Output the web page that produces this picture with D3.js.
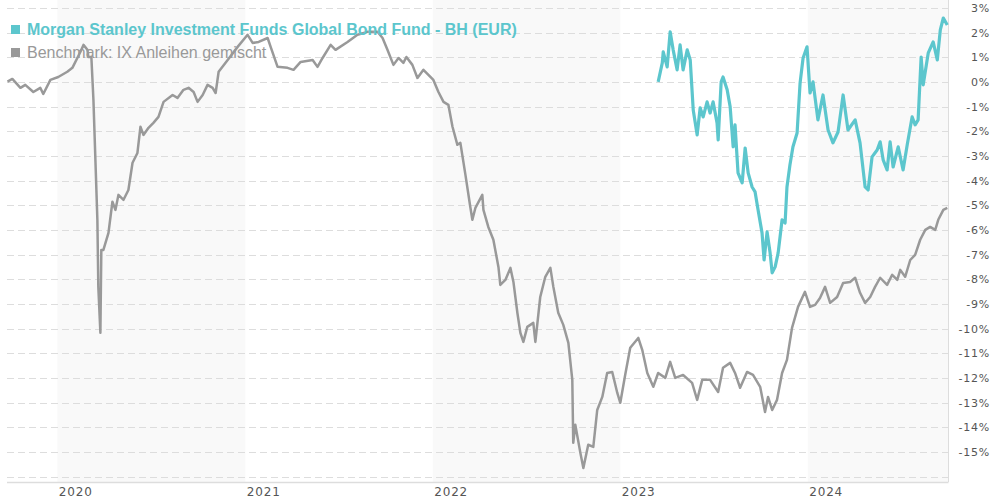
<!DOCTYPE html>
<html>
<head>
<meta charset="utf-8">
<script src="https://cdn.jsdelivr.net/npm/d3@7"></script>
<style>
  body { margin: 0; background: #fff; }
  svg { display: block; }
</style>
</head>
<body>
<svg id="chart"></svg>
<script>
// dates as decimal years, values in %
const benchTime = [2019.734, 2019.760, 2019.803, 2019.829, 2019.872, 2019.909, 2019.925, 2019.963, 2020.005, 2020.053,
  2020.080, 2020.123, 2020.139, 2020.160, 2020.165, 2020.181, 2020.192, 2020.213, 2020.218, 2020.229,
  2020.234, 2020.245, 2020.272, 2020.293, 2020.309, 2020.325, 2020.352, 2020.378, 2020.400, 2020.426,
  2020.442, 2020.458, 2020.485, 2020.511, 2020.538, 2020.565, 2020.613, 2020.639, 2020.671, 2020.698,
  2020.725, 2020.746, 2020.773, 2020.799, 2020.826, 2020.842, 2020.858, 2020.906, 2020.959, 2021.012,
  2021.039, 2021.071, 2021.119, 2021.135, 2021.172, 2021.225, 2021.257, 2021.295, 2021.359, 2021.385,
  2021.412, 2021.455, 2021.481, 2021.545, 2021.598, 2021.652, 2021.705, 2021.732, 2021.758, 2021.790,
  2021.817, 2021.843, 2021.859, 2021.891, 2021.918, 2021.950, 2022.003, 2022.030, 2022.057, 2022.083,
  2022.105, 2022.131, 2022.147, 2022.174, 2022.200, 2022.211, 2022.227, 2022.264, 2022.270, 2022.296,
  2022.323, 2022.350, 2022.360, 2022.387, 2022.414, 2022.430, 2022.451, 2022.467, 2022.483, 2022.504,
  2022.536, 2022.547, 2022.573, 2022.600, 2022.627, 2022.643, 2022.669, 2022.696, 2022.723, 2022.744,
  2022.749, 2022.760, 2022.787, 2022.803, 2022.829, 2022.856, 2022.877, 2022.904, 2022.930, 2022.957,
  2022.984, 2023.000, 2023.026, 2023.053, 2023.096, 2023.117, 2023.144, 2023.176, 2023.202, 2023.240,
  2023.266, 2023.293, 2023.335, 2023.383, 2023.410, 2023.437, 2023.479, 2023.522, 2023.548, 2023.586,
  2023.612, 2023.639, 2023.676, 2023.708, 2023.746, 2023.772, 2023.788, 2023.810, 2023.836, 2023.863,
  2023.889, 2023.916, 2023.948, 2023.985, 2024.012, 2024.039, 2024.065, 2024.092, 2024.119, 2024.156,
  2024.188, 2024.225, 2024.252, 2024.278, 2024.305, 2024.332, 2024.358, 2024.385, 2024.422, 2024.449,
  2024.476, 2024.492, 2024.518, 2024.545, 2024.571, 2024.598, 2024.625, 2024.651, 2024.678, 2024.694,
  2024.721, 2024.742];
const benchValue = [0.01, 0.12, -0.24, -0.12, -0.41, -0.24, -0.49, 0.08, 0.20, 0.41,
  0.57, 1.22, 1.50, 1.30, 1.01, 1.01, -0.73, -5.59, -8.31, -10.17,
  -6.81, -6.81, -6.12, -4.86, -5.19, -4.58, -4.78, -4.38, -3.28, -2.88,
  -1.82, -2.15, -1.86, -1.66, -1.42, -0.81, -0.53, -0.65, -0.32, -0.24,
  -0.41, -0.81, -0.53, -0.12, -0.24, -0.45, 0.41, 0.89, 1.42, 1.91,
  1.58, 1.62, 1.78, 1.42, 0.61, 0.57, 0.49, 0.81, 0.89, 0.61,
  0.97, 1.50, 1.30, 1.62, 1.91, 2.03, 2.03, 1.78, 1.30, 0.69,
  0.97, 0.77, 1.01, 0.69, 0.16, 0.49, 0.08, -0.41, -0.81, -0.93,
  -1.82, -2.55, -2.47, -3.77, -5.07, -5.59, -5.11, -4.58, -5.19, -5.88,
  -6.40, -7.50, -8.23, -8.03, -7.54, -8.11, -9.36, -10.17, -10.54, -9.93,
  -9.77, -10.54, -8.72, -7.90, -7.54, -8.31, -9.36, -9.85, -10.58, -12.08,
  -14.63, -13.90, -15.04, -15.65, -14.71, -14.80, -13.30, -12.77, -11.80, -11.76,
  -12.61, -13.01, -11.88, -10.78, -10.38, -10.86, -11.80, -12.36, -11.80, -12.00,
  -11.35, -12.00, -11.88, -12.20, -12.89, -12.08, -12.08, -12.57, -11.59, -11.39,
  -11.80, -12.40, -11.76, -11.88, -12.36, -13.38, -12.77, -13.30, -12.89, -11.80,
  -11.27, -9.97, -9.12, -8.51, -9.12, -9.04, -8.76, -8.31, -8.96, -8.72,
  -8.15, -8.11, -7.94, -8.55, -8.96, -8.72, -8.31, -7.94, -8.23, -7.82,
  -8.03, -7.62, -7.90, -7.22, -7.01, -6.40, -6.00, -5.88, -6.00, -5.59,
  -5.19, -5.11];

const fundTime = [2023.202, 2023.224, 2023.229, 2023.250, 2023.266, 2023.282, 2023.303, 2023.319, 2023.335, 2023.357,
  2023.373, 2023.389, 2023.410, 2023.426, 2023.442, 2023.463, 2023.479, 2023.495, 2023.516, 2023.522,
  2023.538, 2023.548, 2023.570, 2023.586, 2023.602, 2023.612, 2023.628, 2023.650, 2023.666, 2023.682,
  2023.703, 2023.719, 2023.735, 2023.756, 2023.767, 2023.783, 2023.799, 2023.810, 2023.826, 2023.842,
  2023.863, 2023.879, 2023.889, 2023.905, 2023.921, 2023.943, 2023.959, 2023.975, 2023.996, 2024.012,
  2024.028, 2024.054, 2024.081, 2024.108, 2024.134, 2024.161, 2024.188, 2024.214, 2024.252, 2024.278,
  2024.305, 2024.321, 2024.342, 2024.369, 2024.385, 2024.401, 2024.422, 2024.438, 2024.454, 2024.481,
  2024.507, 2024.529, 2024.555, 2024.571, 2024.587, 2024.603, 2024.614, 2024.641, 2024.667, 2024.689,
  2024.705, 2024.721, 2024.742];
const fundValue = [0.00, 0.77, 1.22, 0.61, 2.03, 1.30, 0.49, 1.50, 0.49, 1.30,
  0.89, -1.14, -2.15, -1.05, -1.42, -0.81, -1.26, -0.81, -1.66, -2.35,
  0.00, 0.20, -0.32, -1.01, -2.63, -1.74, -3.69, -4.09, -2.68, -3.69,
  -4.26, -4.46, -5.19, -6.12, -7.22, -6.08, -6.93, -7.74, -7.50, -6.93,
  -5.59, -5.72, -4.26, -3.36, -2.63, -2.07, -0.04, 0.97, 1.42, -0.45,
  0.00, -1.54, -0.53, -1.95, -2.47, -2.03, -0.53, -1.95, -1.54, -2.47,
  -4.26, -4.38, -3.04, -2.76, -2.43, -3.16, -3.57, -2.43, -3.45, -2.63,
  -3.57, -2.55, -1.42, -1.74, -1.54, 1.01, -0.12, 1.18, 1.62, 0.89,
  2.11, 2.59, 2.31];

const yTicks = d3.range(-15, 4);
const fundName = "Morgan Stanley Investment Funds Global Bond Fund - BH (EUR)";
const benchName = "Benchmark: IX Anleihen gemischt";
const fundColor = "#5cc6cd", benchColor = "#999999";

function toDate(t) {
  const yr = Math.floor(t);
  const a = Date.UTC(yr, 0, 1), b = Date.UTC(yr + 1, 0, 1);
  return new Date(a + (t - yr) * (b - a));
}

const width = 990, height = 500;
const plotLeft = 7, plotRight = 948, plotTop = 0, plotBottom = 482;
const svg = d3.select("#chart").attr("width", width).attr("height", height);

const x = d3.scaleUtc()
  .domain([new Date(Date.UTC(2019, 8, 25)), new Date(Date.UTC(2024, 8, 30))])
  .range([plotLeft, plotRight]);
const y = d3.scaleLinear().domain([-16.2, 3.3]).range([plotBottom - 0.5, plotTop + 0.5]);

// alternating year bands
const years = d3.utcYear.range(x.domain()[0], x.domain()[1]);
svg.append("g").selectAll("rect")
  .data(years.filter((d) => d.getUTCFullYear() % 2 === 0))
  .join("rect")
  .attr("x", (d) => x(d))
  .attr("y", plotTop)
  .attr("width", (d) => Math.min(x(d3.utcYear.offset(d, 1)), plotRight) - x(d))
  .attr("height", plotBottom - plotTop)
  .attr("fill", "#f9f9f9");

// dashed grid
svg.append("g").selectAll("line")
  .data(d3.range(-16, 4))
  .join("line")
  .attr("x1", plotLeft).attr("x2", plotRight)
  .attr("y1", (d) => Math.round(y(d)) + 0.5).attr("y2", (d) => Math.round(y(d)) + 0.5)
  .attr("stroke", "#dddddd")
  .attr("stroke-dasharray", "7,4");

// frame lines
svg.append("line").attr("x1", plotLeft).attr("x2", plotRight + 0.5)
  .attr("y1", plotBottom + 0.5).attr("y2", plotBottom + 0.5)
  .attr("stroke", "#dddddd").attr("stroke-width", 1.5);
svg.append("line").attr("x1", plotRight + 0.5).attr("x2", plotRight + 0.5)
  .attr("y1", plotTop).attr("y2", plotBottom)
  .attr("stroke", "#dddddd");

// axes
const xAxis = svg.append("g")
  .attr("transform", `translate(0,${plotBottom})`)
  .call(d3.axisBottom(x).ticks(d3.utcYear).tickFormat(d3.utcFormat("%Y")).tickSize(0).tickPadding(5));
xAxis.select(".domain").remove();
xAxis.selectAll("text")
  .attr("text-anchor", "start").attr("x", 1)
  .attr("font-family", "DejaVu Sans").attr("font-size", 12).attr("letter-spacing", 0.8)
  .attr("fill", "#555");

const yAxis = svg.append("g")
  .attr("transform", `translate(${width},0)`)
  .call(d3.axisRight(y).tickValues(yTicks).tickFormat((d) => d + "%").tickSize(0).tickPadding(0));
yAxis.select(".domain").remove();
yAxis.selectAll("text")
  .attr("text-anchor", "end").attr("x", 0)
  .attr("font-family", "DejaVu Sans").attr("font-size", 11).attr("letter-spacing", 0.8)
  .attr("fill", "#555");

// lines
const line = d3.line().x((d) => x(d[0])).y((d) => y(d[1]));
const benchData = benchTime.map((t, i) => [toDate(t), benchValue[i]]);
const fundData = fundTime.map((t, i) => [toDate(t), fundValue[i]]);

svg.append("path").datum(benchData)
  .attr("d", line).attr("fill", "none")
  .attr("stroke", benchColor).attr("stroke-width", 2.5).attr("stroke-linejoin", "round");
svg.append("path").datum(fundData)
  .attr("d", line).attr("fill", "none")
  .attr("stroke", fundColor).attr("stroke-width", 3.2).attr("stroke-linejoin", "round");

// legend
const legend = svg.append("g").attr("font-family", "Liberation Sans, Arial, sans-serif").attr("font-size", 16);
[[fundName, fundColor, "bold", 35], [benchName, benchColor, "normal", 58]].forEach(([name, c, w, by]) => {
  legend.append("rect").attr("x", 11).attr("y", by - 10).attr("width", 9).attr("height", 9).attr("fill", c);
  legend.append("text").attr("x", 27).attr("y", by).attr("fill", c).attr("font-weight", w).text(name);
});
</script>
</body>
</html>
